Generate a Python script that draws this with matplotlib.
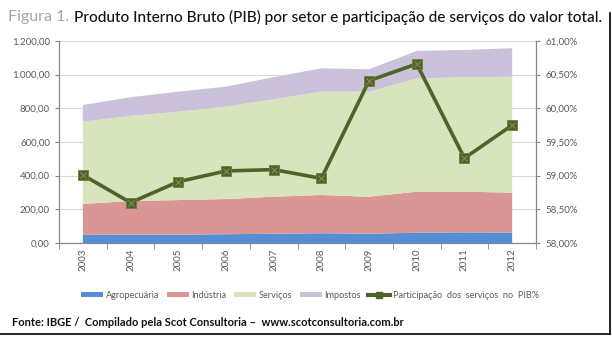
import numpy as np
import matplotlib.pyplot as plt
from matplotlib.ticker import FuncFormatter, FixedLocator
from matplotlib.patches import Patch
from matplotlib.lines import Line2D

plt.rcParams['font.family'] = ['Lato', 'DejaVu Sans']

anos = ['2003', '2004', '2005', '2006', '2007', '2008', '2009', '2010', '2011', '2012']
agropecuaria = [48, 49, 50, 52, 55, 58, 55, 61, 63, 62]
industria = [184, 200, 205, 209, 220, 227, 220, 244, 242, 237]
servicos = [489, 506, 525, 549, 579, 614, 624, 673, 679, 689]
impostos = [99, 111, 119, 119, 131, 139, 133, 163, 163, 169]
participacao = [59.01, 58.60, 58.91, 59.07, 59.09, 58.96, 60.41, 60.66, 59.26, 59.75]

cores = ['#558ED5', '#D99694', '#D7E4BD', '#CCC1DA']
verde = '#4F6228'
cinza = '#595959'


def br_num(v, pos=None):
    s = f'{v:,.2f}'
    return s.replace(',', 'X').replace('.', ',').replace('X', '.')


def br_pct(v, pos=None):
    return f'{v:.2f}'.replace('.', ',') + '%'


def ajusta_largura(txt, largura_px, renderer):
    # reduz a fonte até o texto caber na largura dada
    while txt.get_window_extent(renderer=renderer).width > largura_px:
        txt.set_fontsize(txt.get_fontsize() - 0.1)


fig = plt.figure(figsize=(6.12, 3.38), dpi=100)
ax = fig.add_axes([59 / 612, 1 - 243 / 338, 477 / 612, 202 / 338])

x = np.arange(len(anos))
ax.stackplot(x, agropecuaria, industria, servicos, impostos, colors=cores, linewidth=0)
ax.set_xlim(-0.5, len(anos) - 0.5)
ax.set_ylim(0, 1200)
ax.set_yticks(np.arange(0, 1201, 200))
ax.yaxis.set_major_formatter(FuncFormatter(br_num))
ax.grid(axis='y', color='#D9D9D9', linewidth=0.8)
ax.set_axisbelow(True)

ax.set_xticks(x)
ax.set_xticklabels(anos, rotation=90, fontsize=7, color=cinza)
ax.xaxis.set_minor_locator(FixedLocator(np.arange(-0.5, len(anos), 1)))
ax.tick_params(axis='x', which='major', length=0, pad=4)
ax.tick_params(axis='x', which='minor', length=4, color='#868686')
ax.tick_params(axis='y', labelsize=7, colors=cinza, length=3)
ax.tick_params(axis='y', color='#868686')

for side in ['left', 'bottom', 'right']:
    ax.spines[side].set_color('#868686')
ax.spines['top'].set_visible(False)

ax2 = ax.twinx()
ax2.plot(x, participacao, color=verde, linewidth=2.6, marker='s', markersize=7,
         markerfacecolor=verde, markeredgecolor='#6B7F3A', markeredgewidth=0.6)
ax2.plot(x, participacao, linestyle='none', marker='x', markersize=4,
         markeredgecolor='#8C9D60', markeredgewidth=0.6)
ax2.set_ylim(58, 61)
ax2.set_yticks(np.arange(58, 61.01, 0.5))
ax2.yaxis.set_major_formatter(FuncFormatter(br_pct))
ax2.tick_params(axis='y', labelsize=7, colors=cinza, length=3)
ax2.tick_params(axis='y', color='#868686')
for side in ['left', 'bottom', 'right']:
    ax2.spines[side].set_color('#868686')
ax2.spines['top'].set_visible(False)

# legenda abaixo do gráfico
handles = [Patch(facecolor=c, edgecolor='none') for c in cores]
handles.append(Line2D([0], [0], color=verde, linewidth=3, marker='s', markersize=5))
labels = ['Agropecuária', 'Indústria', 'Serviços', 'Impostos',
          'Participação  dos  serviços  no  PIB%']
leg = fig.legend(handles, labels, loc='center', bbox_to_anchor=(310 / 612, 1 - 295 / 338),
                 ncol=5, frameon=False, fontsize=6.6, handlelength=2.4, handleheight=0.5,
                 handletextpad=0.3, columnspacing=0.8)
for t in leg.get_texts():
    t.set_color(cinza)

# título
fig.canvas.draw()
r = fig.canvas.get_renderer()
t1 = fig.text(8 / 612, 1 - 17 / 338, 'Figura 1.', fontsize=11.5, color='#A6A6A6',
              va='center', ha='left')
bb = t1.get_window_extent(renderer=r)
x_tit = bb.x1 + 5
t2 = fig.text(x_tit / 612, 1 - 17 / 338,
              'Produto Interno Bruto (PIB) por setor e participação de serviços do valor total.',
              fontsize=11.5, color='#111111', va='center', ha='left', fontweight='medium')
ajusta_largura(t2, 604 - x_tit, r)

t3 = fig.text(12 / 612, 1 - 323 / 338,
              'Fonte: IBGE /  Compilado pela Scot Consultoria –  www.scotconsultoria.com.br',
              fontsize=8, color='#111111', va='center', ha='left', fontweight='bold')
ajusta_largura(t3, 406, r)

# moldura
fig.add_artist(Line2D([0, 610 / 612], [1 - 334 / 338] * 2, color='black', linewidth=1.2,
                      transform=fig.transFigure))
fig.add_artist(Line2D([610 / 612] * 2, [1 - 13 / 338, 1 - 334 / 338], color='black',
                      linewidth=1.2, transform=fig.transFigure))

fig.savefig('out.png', dpi=100)
